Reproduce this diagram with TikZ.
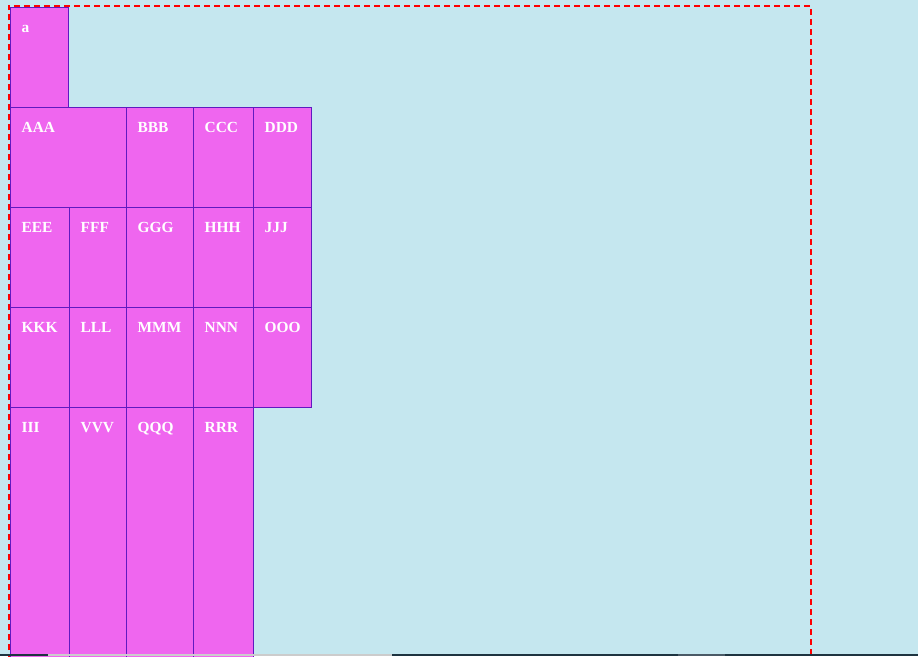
\documentclass[tikz,border=0pt]{standalone}
\usepackage{fontspec}
\setmainfont{Liberation Serif}
\definecolor{bgc}{RGB}{197,231,239}
\definecolor{boxfill}{RGB}{239,102,239}
\definecolor{boxline}{RGB}{96,26,192}
\definecolor{sbdark}{RGB}{30,52,64}
\definecolor{sblight}{RGB}{204,204,204}
\definecolor{sbmid}{RGB}{74,90,102}
\tikzset{
  cell/.style={draw=boxline, fill=boxfill, line width=1.3pt, rectangle, inner sep=0pt, anchor=north west},
  lbl/.style={text=white, font=\fontsize{15.4}{18}\selectfont\bfseries, inner sep=0pt, anchor=base west},
  frame/.style={draw=red, line width=2pt, dash pattern=on 6pt off 4pt},
}
\newcommand\cellbox[6]{%
  \node[cell, minimum width={#3-#2}, minimum height={#5-#4}] (#1) at (#2,#4) {};
  \node[lbl] (#1t) at ({#2+11.5},{#4+25}) {#6};}
\begin{document}
\begin{tikzpicture}[x=1pt,y=-1pt]
\useasboundingbox (0,0) rectangle (918,656);
\fill[bgc] (0,0) rectangle (918,656);
\clip (0,0) rectangle (918,656);
% boxes
\cellbox{a}{10}{68}{7}{107}{a}
\cellbox{AAA}{10}{126}{107}{207}{AAA}
\cellbox{BBB}{126}{193}{107}{207}{BBB}
\cellbox{CCC}{193}{253}{107}{207}{CCC}
\cellbox{DDD}{253}{311}{107}{207}{DDD}
\cellbox{EEE}{10}{69}{207}{307}{EEE}
\cellbox{FFF}{69}{126}{207}{307}{FFF}
\cellbox{GGG}{126}{193}{207}{307}{GGG}
\cellbox{HHH}{193}{253}{207}{307}{HHH}
\cellbox{JJJ}{253}{311}{207}{307}{JJJ}
\cellbox{KKK}{10}{69}{307}{407}{KKK}
\cellbox{LLL}{69}{126}{307}{407}{LLL}
\cellbox{MMM}{126}{193}{307}{407}{MMM}
\cellbox{NNN}{193}{253}{307}{407}{NNN}
\cellbox{OOO}{253}{311}{307}{407}{OOO}
\cellbox{III}{10}{69}{407}{670}{III}
\cellbox{VVV}{69}{126}{407}{670}{VVV}
\cellbox{QQQ}{126}{193}{407}{670}{QQQ}
\cellbox{RRR}{193}{253}{407}{670}{RRR}
% dashed frame
\draw[frame] (8.5,670) -- (8.5,5.5) -- (810.5,5.5) -- (810.5,670);
% bottom strip
\fill[sbdark] (0,654) rectangle (48,656);
\fill[sblight] (48,654) rectangle (392,656);
\fill[sbdark] (392,654) rectangle (678,656);
\fill[sbmid] (678,654) rectangle (725,656);
\fill[sbdark] (725,654) rectangle (918,656);
\end{tikzpicture}
\end{document}
